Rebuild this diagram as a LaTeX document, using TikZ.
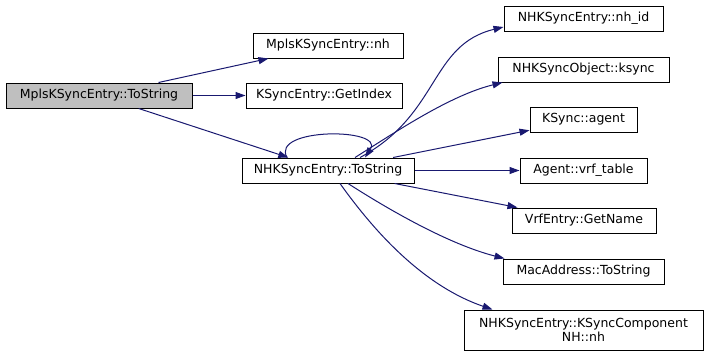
\documentclass[tikz,border=0pt]{standalone}
\usepackage{fontspec}
\setmainfont{DejaVu Sans}
\usepackage{xcolor}
\usepackage{tikz}
\usetikzlibrary{positioning, arrows.meta}

\definecolor{edgeblue}{HTML}{191970}

\begin{document}
\begin{tikzpicture}[x=1pt, y=-1pt,
    fn/.style={draw=black, line width=1pt, fill=white, inner sep=0pt,
      minimum height=25pt, font=\fontsize{12.5}{14}\selectfont},
    fnroot/.style={fn, fill=black!25},
    call/.style={-{Triangle[length=10pt, width=7pt]}, edgeblue, line width=1pt}]
      \useasboundingbox (0, 0) rectangle (709, 356);

      % Caller
      \node[fnroot, minimum width=186pt] (mplsts) at (99, 95.5) {MplsKSyncEntry::ToString};

      % First level
      \node[fn, minimum width=150pt] (mplsnh) at (328, 45.5) {MplsKSyncEntry::nh};
      \node[fn, minimum width=156pt] (getidx) at (324, 95.5) {KSyncEntry::GetIndex};
      \node[fn, minimum width=172pt] (nhts) at (328, 170.5) {NHKSyncEntry::ToString};

      % Second level
      \node[fn, minimum width=159pt] (nhid) at (583.5, 18.5) {NHKSyncEntry::nh\_id};
      \node[fn, minimum width=171pt] (ksync) at (583.5, 69.5) {NHKSyncObject::ksync};
      \node[fn, minimum width=107pt] (agent) at (583.5, 119.5) {KSync::agent};
      \node[fn, minimum width=127pt] (vrftab) at (583.5, 170.5) {Agent::vrf\_table};
      \node[fn, minimum width=144pt] (getname) at (584, 220.5) {VrfEntry::GetName};
      \node[fn, minimum width=161pt] (macts) at (583.5, 271.5) {MacAddress::ToString};
      \node[fn, minimum width=239pt, minimum height=40pt, align=center] (compnh) at (583.5, 330)
        {NHKSyncEntry::KSyncComponent\\NH::nh};

      % Calls from the caller
      \draw[call] (mplsts) -- (mplsnh);
      \draw[call] (mplsts) -- (getidx);
      \draw[call] (mplsts) -- (nhts);

      % Recursive call
      \draw[call] ([xshift=-41pt]nhts.north) .. controls +(-17, -30) and +(20, -30) .. ([xshift=37pt]nhts.north);

      % Calls from NHKSyncEntry::ToString
      \draw[call] ([xshift=32pt]nhts.north) .. controls +(80, -43) and +(-74, 18) .. ([yshift=-8.5pt]nhid.west);
      \draw[call] ([xshift=27pt]nhts.north) .. controls +(40, -25) and +(-53, 13) .. ([xshift=5pt]ksync.south west);
      \draw[call] (nhts) -- (agent);
      \draw[call] (nhts) -- (vrftab);
      \draw[call] (nhts) -- (getname);
      \draw[call] ([xshift=20pt]nhts.south) .. controls +(42, 27) and +(-55, -14) .. ([xshift=2pt]macts.north west);
      \draw[call] ([xshift=12pt]nhts.south) .. controls +(30, 42) and +(-73, -25) .. ([xshift=29pt]compnh.north west);
\end{tikzpicture}
\end{document}
